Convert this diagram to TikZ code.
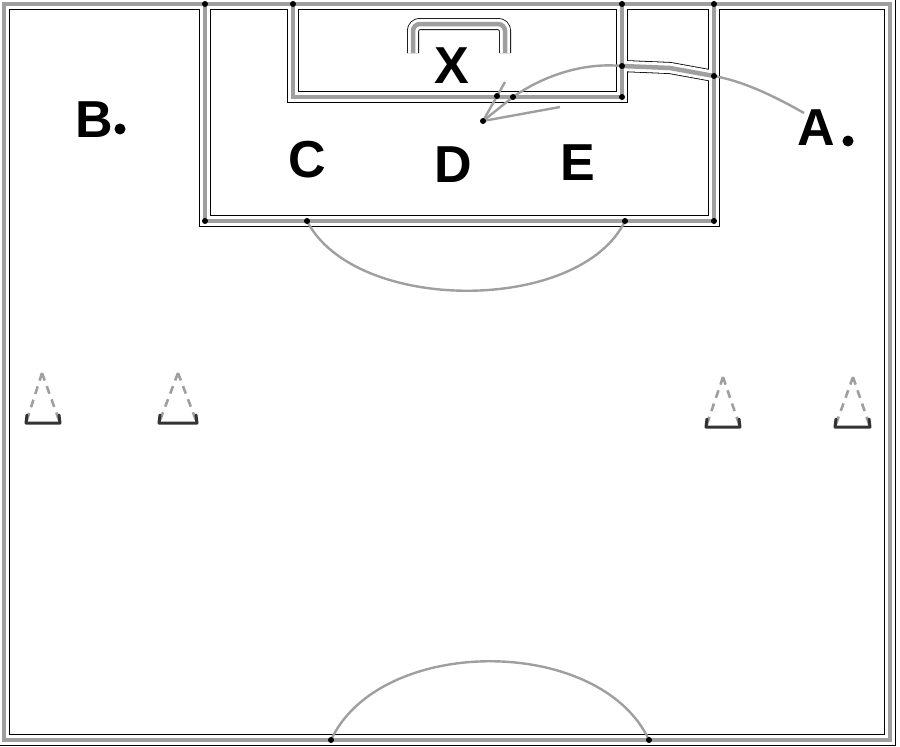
\documentclass[tikz,border=0pt]{standalone}
\usepackage{fontspec}
\setmainfont{Liberation Sans}
\usetikzlibrary{calc}
\begin{document}
\begin{tikzpicture}[x=1pt,y=-1pt,
  lbl/.style={font=\fontsize{52}{52}\selectfont\bfseries,inner sep=0pt},
  jdot/.style={fill=black,circle,inner sep=0pt,minimum size=6pt},
  pdot/.style={fill=black,circle,inner sep=0pt,minimum size=11pt},
  thin gray/.style={draw=gray!75,line width=2.4pt},
  conebase/.style={draw=black!80,line width=3pt,line cap=round,line join=round},
  coneside/.style={draw=gray!75,line width=2.6pt,dash pattern=on 8pt off 6pt}]
\useasboundingbox (0,0) rectangle (900,747);
% coordinates
\coordinate (tl) at (4,4);
\coordinate (br) at (890,740);
\coordinate (pt1) at (205,4);
\coordinate (pt2) at (714,4);
\coordinate (pb1) at (205,221);
\coordinate (pb2) at (714,221);
\coordinate (gt1) at (293,4);
\coordinate (gt2) at (622,4);
\coordinate (gb1) at (293,97);
\coordinate (gb2) at (622,97);
\coordinate (gm) at (622,66);
\coordinate (gk) at (670,68);
\coordinate (pm) at (714,76);
\coordinate (bl) at (413,53);
\coordinate (bt) at (459,24);
\coordinate (brr) at (505,53);
\coordinate (arcL) at (307,221);
\coordinate (arcR) at (625,221);
\coordinate (cL) at (331,740);
\coordinate (cR) at (649,740);
\coordinate (tip) at (483,121);
\coordinate (h1) at (505,82);
\coordinate (h2) at (560,107);
\coordinate (astart) at (804,113);
% pitch lines drawn in three passes
\def\pitchlines#1{%
  \draw[#1] (tl) rectangle (br);
  \draw[#1] (pt1) -- (pb1) -- (pb2) -- (pt2);
  \draw[#1] (gt1) -- (gb1) -- (gb2) -- (gt2);
  \draw[#1] (gm) -- (gk) -- (pm);
  \draw[#1,rounded corners=7pt] (bl) -- (bl |- bt) -- (brr |- bt) -- (brr);
}
\pitchlines{black,line width=12pt}
\pitchlines{white,line width=10.4pt}
\pitchlines{gray!75,line width=4.5pt}
% arcs
\draw[thin gray] (arcL) .. controls (355,314) and (580,314) .. (arcR);
\draw[thin gray] (cL) .. controls (380,635) and (600,635) .. (cR);
% run arrow
\draw[thin gray] (astart) .. controls (760,88) and (735,80) .. (pm);
\draw[thin gray] (gm) .. controls (580,62) and (540,78) .. (513,97) -- (tip);
\draw[thin gray] (h1) -- (tip) -- (h2);
% junction dots
\foreach \p in {pt1,gt1,gt2,pt2,pb1,pb2,gb2,gm,pm,arcL,arcR,cL,cR,tip}
  \node[jdot] at (\p) {};
\node[jdot] at (497,96) {};
\node[jdot] at (513,97) {};
% labels
\node[lbl] (X) at (452,66) {X};
\node[lbl] (B) at (94,120) {B};
\node[pdot] (Bd) at (120,129) {};
\node[lbl] (A) at (816,128) {A};
\node[pdot] (Ad) at (848,141) {};
\node[lbl] (C) at (307,160) {C};
\node[lbl] (D) at (453,165) {D};
\node[lbl] (E) at (578,163) {E};
% cones
\foreach \n/\ax/\ay/\l/\r/\by in {c1/42/373/26/60/423, c2/178/373/159/197/423, c3/723/377/706/740/427, c4/853/377/835/870/427}{
  \coordinate (\n a) at (\ax,\ay);
  \coordinate (\n l) at (\l,\by);
  \coordinate (\n r) at (\r,\by);
  \draw[coneside] (\n a) -- (\n l);
  \draw[coneside] (\n a) -- (\n r);
  \draw[conebase] ($(\n l)+(1,-8)$) -- (\n l) -- (\n r) -- ($(\n r)+(-1,-8)$);
}
\end{tikzpicture}
\end{document}
